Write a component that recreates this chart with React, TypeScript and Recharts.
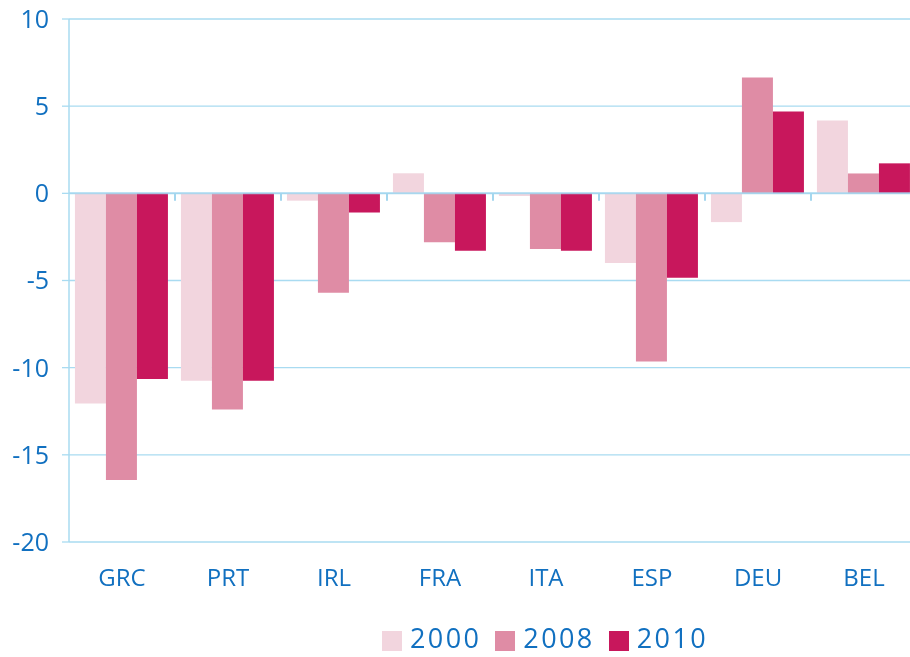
import { Bar, BarChart, CartesianGrid, ReferenceLine, XAxis, YAxis } from "recharts"

const countries = ["GRC", "PRT", "IRL", "FRA", "ITA", "ESP", "DEU", "BEL"]
const y2000 = [-12.05, -10.75, -0.42, 1.15, -0.15, -4.0, -1.65, 4.18]
const y2008 = [-16.45, -12.4, -5.7, -2.8, -3.2, -9.65, 6.64, 1.14]
const y2010 = [-10.65, -10.75, -1.1, -3.3, -3.3, -4.84, 4.69, 1.72]
const yTicks = [-20, -15, -10, -5, 0, 5, 10]
const series = [
  { key: "y2000", label: "2000", color: "#f2d5de" },
  { key: "y2008", label: "2008", color: "#df8ca5" },
  { key: "y2010", label: "2010", color: "#c8175c" },
]

const data = countries.map((c, i) => ({ c, y2000: y2000[i], y2008: y2008[i], y2010: y2010[i] }))

const blue = "#1170c0"
const grid = "#a9dbf1"
const font = "'Open Sans', sans-serif"

export default function App() {
  return (
    <div style={{ position: "fixed", left: 0, top: 0, width: 910, height: 657, overflow: "hidden", fontFamily: font }}>
      <BarChart width={920} height={657} data={data} barGap={0} barCategoryGap="5.6%"
        margin={{ top: 19, right: 3, bottom: 0, left: 0 }}>
        <CartesianGrid vertical={false} stroke={grid} strokeWidth={1.3} />
        <XAxis dataKey="c" height={115} axisLine={false} tickLine={false} tickSize={0} tickMargin={27}
          tick={{ fill: blue, fontSize: 24, fontFamily: font }} interval={0} />
        <YAxis domain={[-20, 10]} ticks={yTicks} width={69} tickSize={7} tickMargin={13}
          axisLine={{ stroke: grid, strokeWidth: 1.5 }} tickLine={{ stroke: grid, strokeWidth: 1.3 }}
          tick={{ fill: blue, fontSize: 25, fontFamily: font }} />
        {series.map((s) => (
          <Bar key={s.key} dataKey={s.key} fill={s.color} isAnimationActive={false} />
        ))}
        <ReferenceLine y={0} stroke="#a3d6ee" strokeWidth={2} strokeOpacity={0.85} />
        {/* small ticks under the zero line at the start of each category */}
        {countries.slice(1).map((c) => (
          <ReferenceLine key={c} position="start" segment={[{ x: c, y: 0 }, { x: c, y: -0.42 }]}
            stroke="#a3d6ee" strokeWidth={2} />
        ))}
      </BarChart>
      <div style={{ position: "absolute", left: 382, top: 624, display: "flex", alignItems: "center" }}>
        {series.map((s) => (
          <div key={s.key} style={{ display: "flex", alignItems: "center", marginRight: 14 }}>
            <span style={{ width: 20, height: 20, background: s.color, display: "inline-block", marginRight: 8, marginTop: 7 }} />
            <span style={{ display: "inline-block", height: 27, color: blue, fontSize: 27, lineHeight: "27px", letterSpacing: 2.4 }}>
              {s.label}
            </span>
          </div>
        ))}
      </div>
    </div>
  )
}
